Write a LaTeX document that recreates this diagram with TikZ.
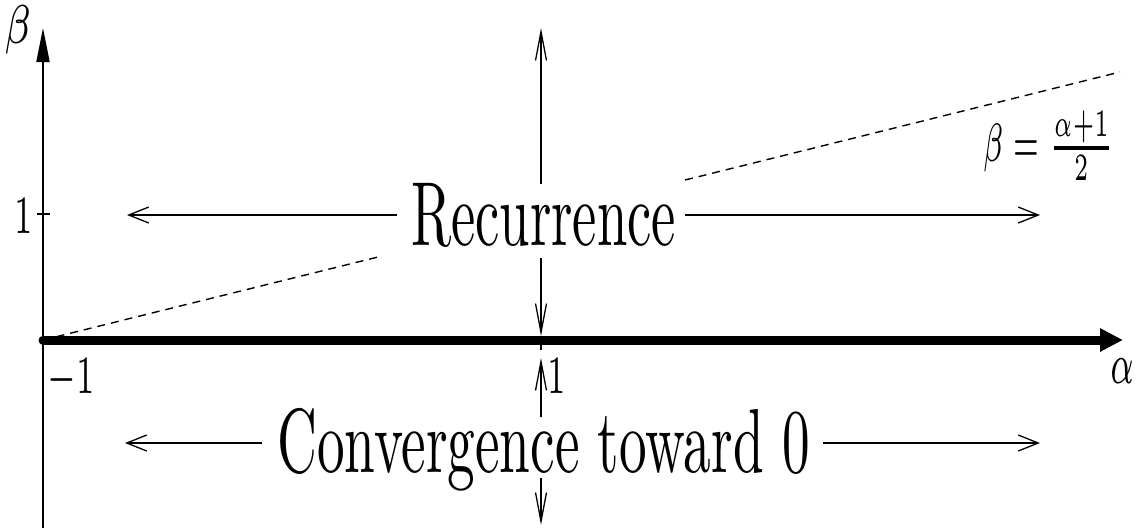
\documentclass[tikz,border=0pt]{standalone}
\usepackage{graphicx}
\usetikzlibrary{arrows.meta}
\tikzset{
  vt/.tip={Straight Barb[length=29pt,width=11pt]},
  ht/.tip={Straight Barb[length=20pt,width=16pt]},
}
\begin{document}
\begin{tikzpicture}[x=1pt,y=-1pt,
  thinline/.style={line width=1.3pt},
  dashline/.style={line width=1.4pt,dash pattern=on 8pt off 6pt},
  bigtext/.style={inner sep=0pt,font=\fontsize{10}{12}\selectfont},
  lab/.style={inner sep=0pt,font=\fontsize{7}{8}\selectfont}]
\useasboundingbox (0,0) rectangle (1137,528);

% coordinates
\coordinate (O) at (43,340);
\coordinate (d1) at (378,257);
\coordinate (d2) at (685,180);
\coordinate (d3) at (1120,72);
\coordinate (vtop) at (541,28);
\coordinate (vaxis) at (541,336);
\coordinate (vtick) at (541,350);
\coordinate (vlow) at (541,358);
\coordinate (vbot) at (541,525);

% dashed line beta=(alpha+1)/2
\draw[dashline] (O) -- (d1);
\draw[dashline] (d2) -- (d3);

% vertical line alpha=1
\draw[thinline,{vt}-{vt}] (vtop) -- (vaxis);
\draw[thinline,{vt}-{vt}] (vlow) -- (vbot);
\draw[thinline] (541,338) -- (vtick);

% white masks behind the texts
\fill[white] (379,184) rectangle (684,258);
\fill[white] (268,417) rectangle (818,478);

% texts
\node[bigtext,anchor=base] (rec) at (543.5,245) {\scalebox{5.46}[9.1]{Recurrence}};
\node[bigtext,anchor=base] (conv) at (543.5,472) {\scalebox{5.52}[9.1]{Convergence toward 0}};

% horizontal arrows
\coordinate (rl) at (127,215);
\coordinate (rr) at (1040,215);
\coordinate (cl) at (125,443);
\coordinate (cr) at (1040,443);
\draw[thinline,-{ht}] (397,215) -- (rl);
\draw[thinline,-{ht}] (685,215) -- (rr);
\draw[thinline,-{ht}] (262,443) -- (cl);
\draw[thinline,-{ht}] (823,443) -- (cr);

% axes
\coordinate (ybot) at (43,528);
\coordinate (ytop) at (43,28);
\coordinate (xend) at (1123,340);
\draw[line width=2pt,-{Triangle[length=34pt,width=13pt]}] (ybot) -- (ytop);
\draw[line width=9pt,line cap=round,-{Triangle[length=23pt,width=22pt]}] (O) -- (xend);
\draw[thinline] (37,214) -- (50,214);

% labels
\node[lab] (beta) at (18,30) {\scalebox{5.6}[7.8]{$\beta$}};
\node[lab,anchor=base] (one) at (24,233) {\scalebox{4.6}[7.7]{1}};
\node[lab,anchor=base] (m1) at (71.5,393) {\scalebox{4.6}[7.7]{$-1$}};
\node[lab,anchor=base] (one2) at (557,393) {\scalebox{4.6}[7.7]{1}};
\node[lab,anchor=base] (alpha) at (1122.5,383) {\scalebox{4.6}[8.2]{$\alpha$}};
\node[lab,anchor=base] (form) at (1048.5,161.5) {\scalebox{4.2}[7.7]{$\beta=\frac{\alpha+1}{2}$}};
\end{tikzpicture}
\end{document}
